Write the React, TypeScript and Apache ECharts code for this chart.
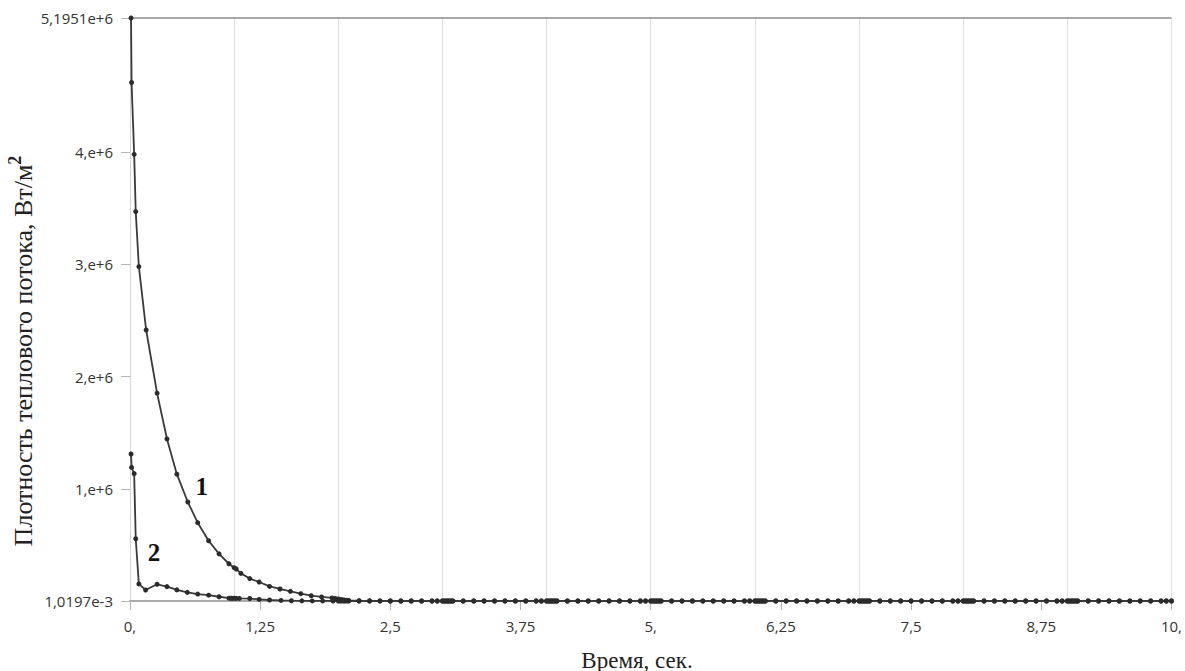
import React, { useEffect, useRef } from "react";
import * as echarts from "echarts";

// ---- data ----
const Y_MIN = 0.0010197; // 1,0197e-3
const Y_MAX = 5195100; // 5,1951e+6
const X_MIN = 0;
const X_MAX = 10;

const Y_TICKS = [Y_MIN, 1000000, 2000000, 3000000, 4000000, Y_MAX];
const X_TICK_STEP = 1.25;
const X_GRID_STEP = 1;

// curve 1 (time, heat flux density)
const CURVE1_T = [
  0.01, 0.015, 0.04, 0.055, 0.085, 0.155, 0.26, 0.355, 0.45, 0.555, 0.65, 0.755,
  0.855, 0.95, 1.0, 1.02, 1.065, 1.15, 1.24, 1.34, 1.44, 1.54, 1.64, 1.74, 1.84,
  1.94, 1.97, 2.0, 2.02, 2.04, 2.06, 2.08, 2.1, 2.2, 2.3, 2.4, 2.5,
];
const CURVE1_Q = [
  5195100, 4620000, 3980000, 3470000, 2980000, 2415000, 1852000, 1444000, 1130000,
  882000, 698000, 537000, 420000, 332000, 297000, 285000, 246000, 200000, 169000,
  130000, 107000, 86000, 65000, 47000, 36000, 27000, 22000, 18000, 14000, 11000,
  8000, 6000, 4500, 2500, 1200, 500, 0.0010197,
];

// curve 2
const CURVE2_T = [
  0.01, 0.015, 0.04, 0.055, 0.085, 0.15, 0.26, 0.355, 0.45, 0.55, 0.65, 0.755,
  0.855, 0.95, 0.97, 0.99, 1.0, 1.02, 1.05, 1.15, 1.24, 1.34, 1.45, 1.55, 1.65,
  1.75, 1.85, 1.95, 2.0,
];
const CURVE2_Q = [
  1310000, 1190000, 1135000, 555000, 152000, 98000, 149000, 128000, 99000, 77000,
  62000, 52000, 38000, 25000, 24500, 24000, 24000, 23500, 23000, 22000, 14000, 9000,
  5000, 2500, 1500, 800, 400, 200, 0.0010197,
];

// flat tail: both curves sit on the 1,0197e-3 baseline after ~2.5 s
const TAIL_T = [
  2.02, 2.04, 2.06, 2.08, 2.1, 2.2, 2.3, 2.4, 2.5, 2.6, 2.7, 2.8, 2.9, 2.95,
  3, 3.02, 3.04, 3.06, 3.08, 3.1, 3.2, 3.3, 3.4, 3.5, 3.6, 3.7, 3.8, 3.9, 3.95,
  4, 4.02, 4.04, 4.06, 4.08, 4.1, 4.2, 4.3, 4.4, 4.5, 4.6, 4.7, 4.8, 4.9, 4.95,
  5, 5.02, 5.04, 5.06, 5.08, 5.1, 5.2, 5.3, 5.4, 5.5, 5.6, 5.7, 5.8, 5.9, 5.95,
  6, 6.02, 6.04, 6.06, 6.08, 6.1, 6.2, 6.3, 6.4, 6.5, 6.6, 6.7, 6.8, 6.9, 6.95,
  7, 7.02, 7.04, 7.06, 7.08, 7.1, 7.2, 7.3, 7.4, 7.5, 7.6, 7.7, 7.8, 7.9, 7.95,
  8, 8.02, 8.04, 8.06, 8.08, 8.1, 8.2, 8.3, 8.4, 8.5, 8.6, 8.7, 8.8, 8.9, 8.95,
  9, 9.02, 9.04, 9.06, 9.08, 9.1, 9.2, 9.3, 9.4, 9.5, 9.6, 9.7, 9.8, 9.9, 9.95,
  10,
];
const TAIL_Q = 0.0010197;

const LABEL_1 = { text: "1", t: 0.69, q: 1020000 };
const LABEL_2 = { text: "2", t: 0.23, q: 430000 };

const X_TITLE = "Время, сек.";
const Y_TITLE = "Плотность теплового потока, Вт/м";

function fmtX(v: number): string {
  const s = String(Math.round(v * 100) / 100).replace(".", ",");
  return Number.isInteger(v) ? s + "," : s;
}
function fmtY(v: number): string {
  if (v < 1) return "1,0197e-3";
  if (Math.abs(v - Y_MAX) < 1) return "5,1951e+6";
  return `${Math.round(v / 1e6)},e+6`;
}

export default function App() {
  const ref = useRef<HTMLDivElement>(null);
  useEffect(() => {
    if (!ref.current) return;
    const chart = echarts.init(ref.current, undefined, { renderer: "svg" });

    const c1 = CURVE1_T.map((t, i) => [t, CURVE1_Q[i]]);
    const c2 = CURVE2_T.map((t, i) => [t, CURVE2_Q[i]]).concat(
      TAIL_T.map((t) => [t, TAIL_Q])
    );
    const c1Full = c1.concat(TAIL_T.filter((t) => t > 2.5).map((t) => [t, TAIL_Q]));

    const labelStyle = {
      show: true,
      position: "inside" as const,
      fontFamily: "Liberation Serif",
      fontWeight: "bold" as const,
      fontSize: 25,
      color: "#111",
    };

    const lineCommon = {
      type: "line" as const,
      symbol: "circle",
      symbolSize: 5,
      showSymbol: true,
      xAxisIndex: 0,
      yAxisIndex: 0,
      lineStyle: { color: "#3a3a3a", width: 1.8 },
      itemStyle: { color: "#2b2b2b" },
      emphasis: { disabled: true },
      z: 5,
    };

    chart.setOption({
      animation: false,
      backgroundColor: "#ffffff",
      grid: { left: 130, right: 2, top: 18, bottom: 70, show: false },
      xAxis: [
        {
          type: "value",
          min: X_MIN,
          max: X_MAX,
          interval: X_TICK_STEP,
          axisLine: { show: true, lineStyle: { color: "#ababab", width: 2 } },
          axisTick: { show: true, length: 9, lineStyle: { color: "#b5b5b5" } },
          axisLabel: {
            margin: 17,
            fontFamily: "Open Sans",
            fontSize: 15,
            color: "#333",
            formatter: fmtX,
            showMinLabel: true,
            showMaxLabel: true,
          },
          splitLine: { show: false },
        },
        {
          type: "value",
          min: X_MIN,
          max: X_MAX,
          interval: X_GRID_STEP,
          position: "bottom",
          axisLine: { show: false },
          axisTick: { show: false },
          axisLabel: { show: false },
          splitLine: { show: true, lineStyle: { color: "#e0e0e0", width: 1 } },
        },
      ],
      yAxis: {
        type: "value",
        min: Y_MIN,
        max: Y_MAX,
        axisLine: { show: true, lineStyle: { color: "#d6d6d6", width: 1 } },
        axisTick: {
          show: true,
          length: 9,
          lineStyle: { color: "#b5b5b5" },
          customValues: Y_TICKS,
        },
        axisLabel: {
          margin: 17,
          fontFamily: "Open Sans",
          fontSize: 15,
          color: "#333",
          formatter: fmtY,
          customValues: Y_TICKS,
        },
        splitLine: { show: false },
      },
      series: [
        {
          ...lineCommon,
          name: "1",
          data: c1Full,
          markLine: {
            silent: true,
            symbol: ["none", "none"],
            label: { show: false },
            lineStyle: { color: "#a8a8a8", width: 2, type: "solid" },
            data: [{ yAxis: Y_MAX }],
            z: 1,
          },
          markPoint: {
            silent: true,
            symbol: "circle",
            symbolSize: 1,
            itemStyle: { color: "rgba(0,0,0,0)" },
            label: { ...labelStyle, formatter: LABEL_1.text },
            data: [{ coord: [LABEL_1.t, LABEL_1.q], value: LABEL_1.text }],
          },
        },
        {
          ...lineCommon,
          name: "2",
          data: c2,
          markPoint: {
            silent: true,
            symbol: "circle",
            symbolSize: 1,
            itemStyle: { color: "rgba(0,0,0,0)" },
            label: { ...labelStyle, formatter: LABEL_2.text },
            data: [{ coord: [LABEL_2.t, LABEL_2.q], value: LABEL_2.text }],
          },
        },
      ],
      graphic: [
        {
          type: "text",
          x: 637,
          y: 660,
          style: {
            text: X_TITLE,
            fontFamily: "Liberation Serif",
            fontSize: 23,
            fill: "#222",
            align: "center",
            verticalAlign: "middle",
          },
        },
        {
          type: "text",
          x: 23,
          y: 351,
          rotation: Math.PI / 2,
          style: {
            text: `{a|${Y_TITLE}}{s|2}`,
            align: "center",
            verticalAlign: "middle",
            rich: {
              a: { fontFamily: "Liberation Serif", fontSize: 26, fill: "#222" },
              s: {
                fontFamily: "Liberation Serif",
                fontSize: 18,
                fontWeight: "bold",
                fill: "#222",
                padding: [0, 0, 16, 0],
              },
            },
          },
        },
      ],
    });
    return () => chart.dispose();
  }, []);
  return (
    <div
      ref={ref}
      style={{ position: "fixed", left: 0, top: 0, width: 1185, height: 671, background: "#fff" }}
    />
  );
}
